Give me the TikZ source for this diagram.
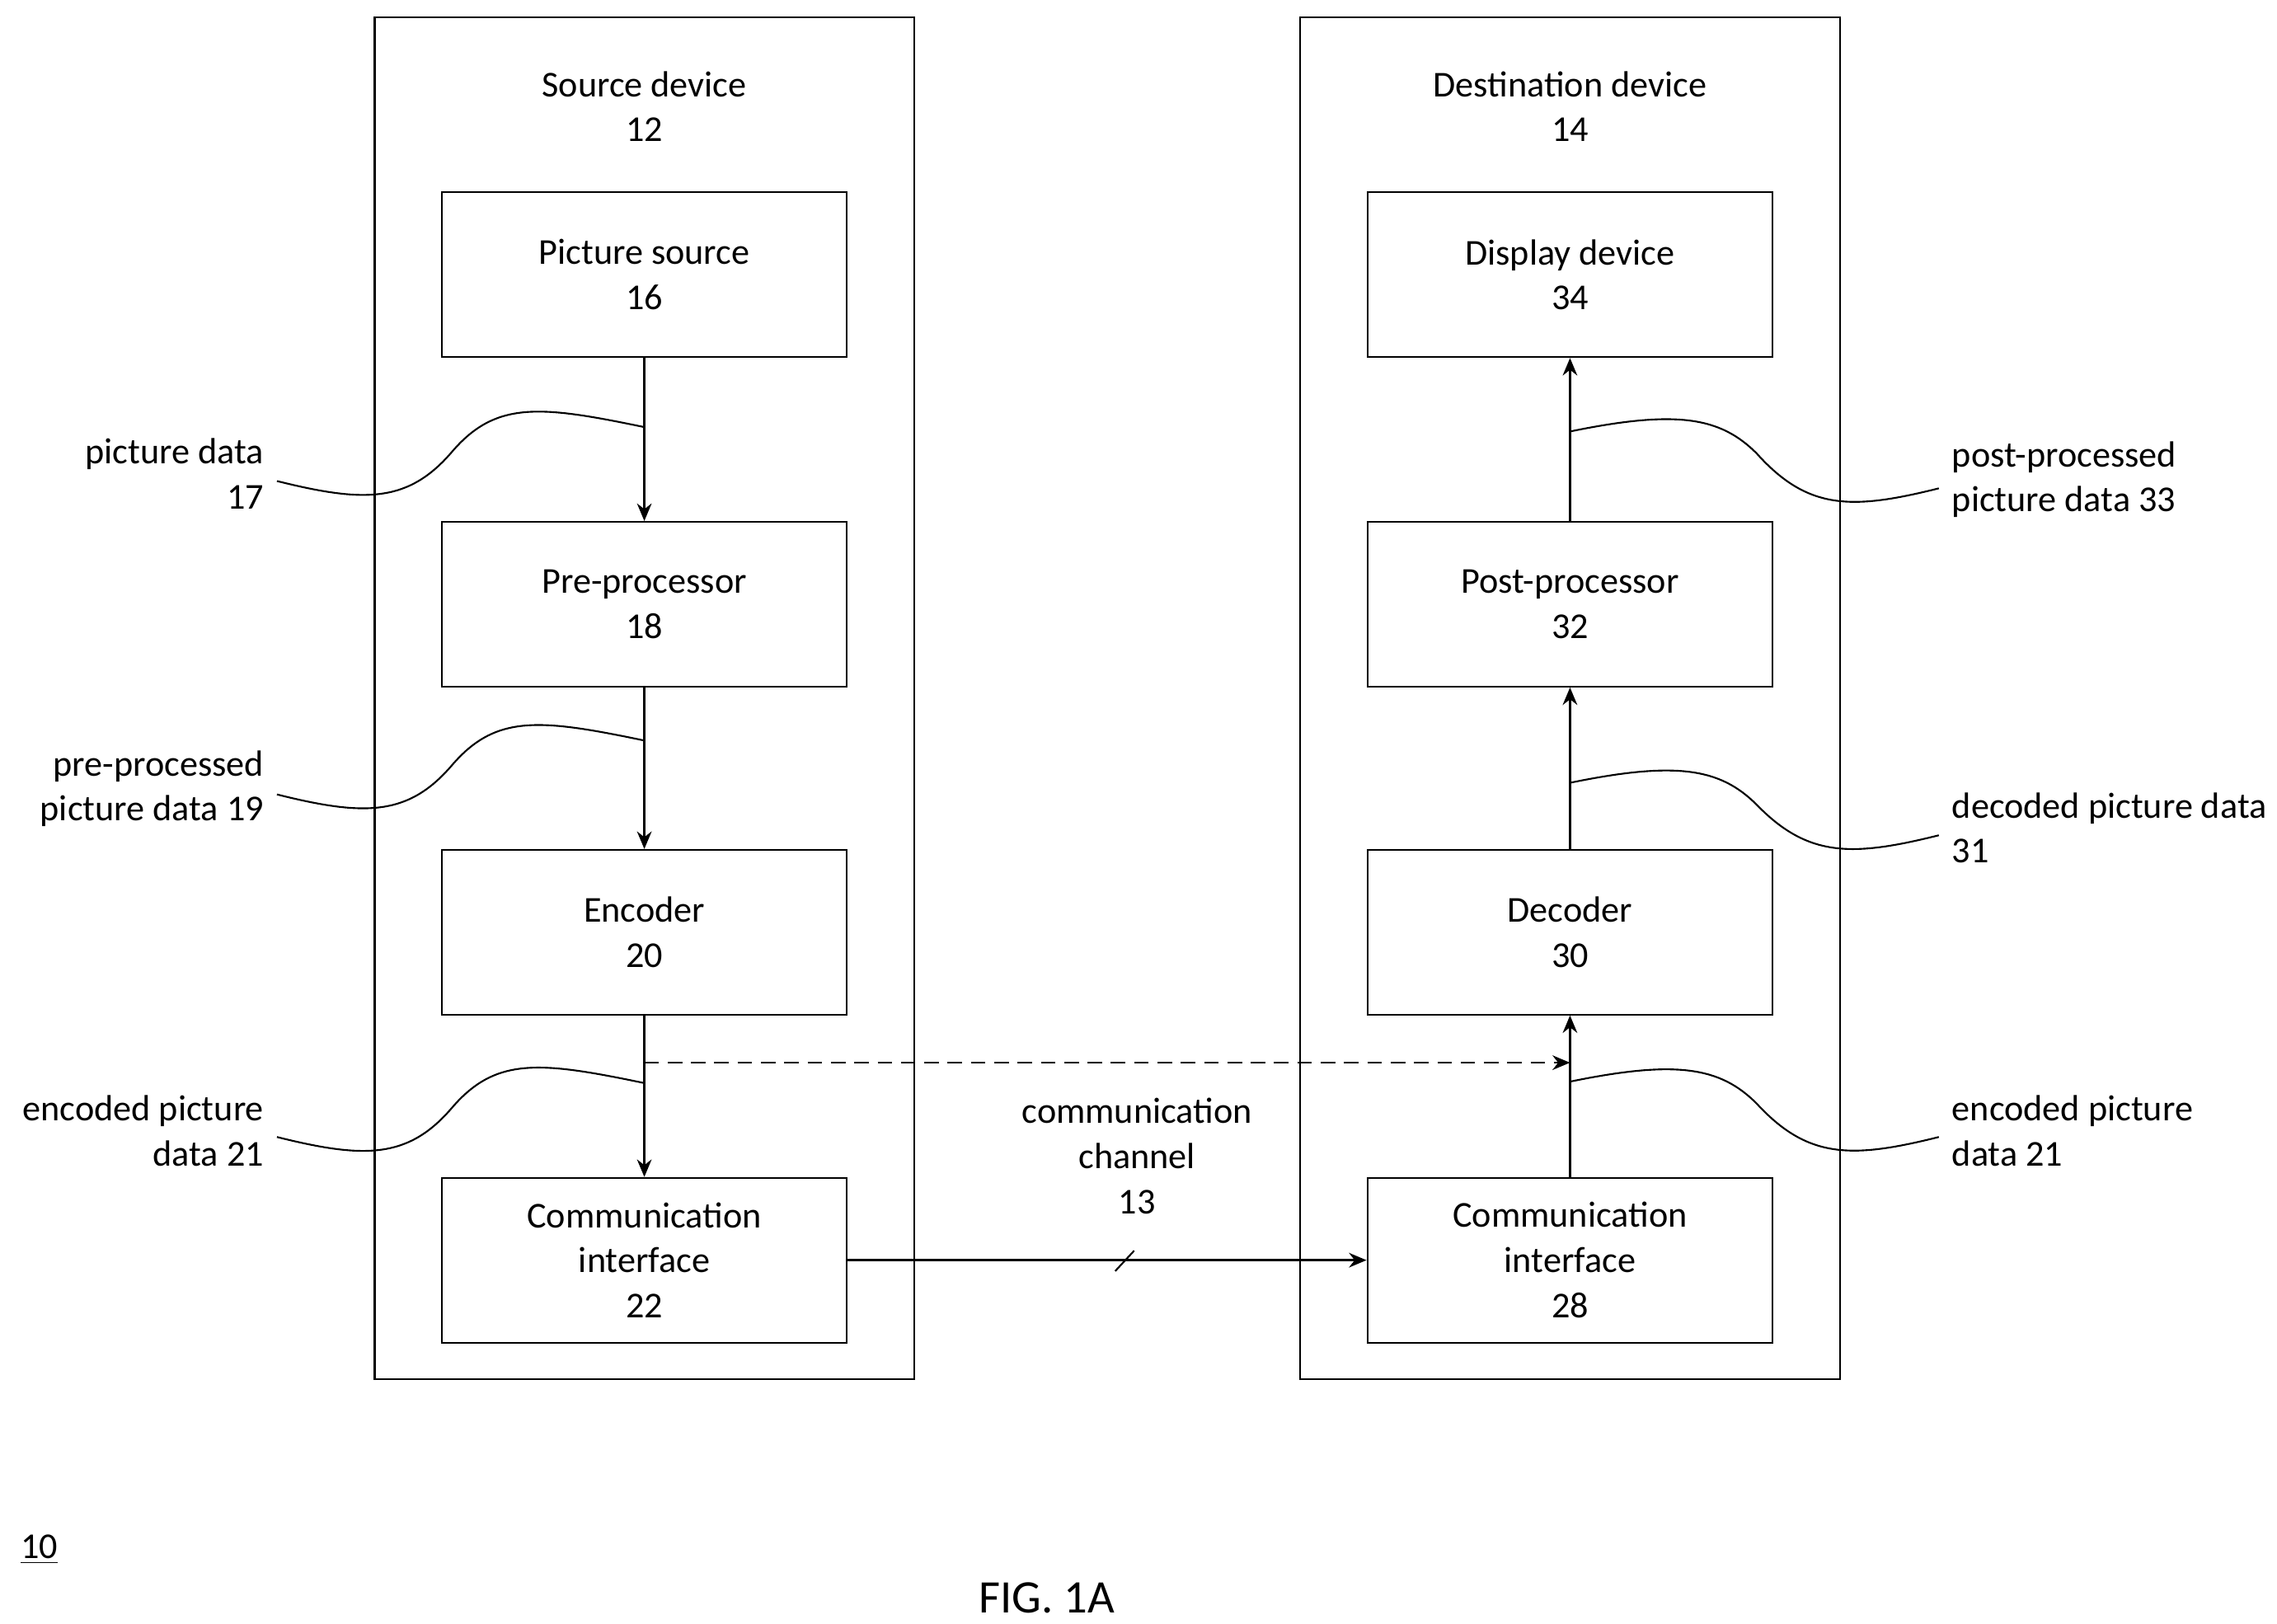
\documentclass[tikz,border=0pt]{standalone}
\usepackage{fontspec}
\setmainfont{Carlito}
\usetikzlibrary{arrows.meta}
\begin{document}
\begin{tikzpicture}[x=0.5pt,y=-0.5pt,
 every node/.style={font=\fontsize{12.5}{15.5}\selectfont},
 box/.style={draw,line width=0.6pt,minimum width=139pt,minimum height=56.5pt,align=center,inner sep=0pt},
 dev/.style={draw,line width=0.6pt,minimum width=185pt,minimum height=467pt,inner sep=0pt},
 arr/.style={line width=0.8pt,-{Stealth[length=6pt,width=5pt]}},
 lead/.style={line width=0.6pt}]
\useasboundingbox (0,0) rectangle (1562,1114);
\node[dev] (src) at (442,479) {};
\node[dev] (dst) at (1077,479) {};
\node[align=center] (srct) at (442,73) {Source device\\12};
\node[align=center] (dstt) at (1077,73) {Destination device\\14};
\node[box] (ps) at (442,188.5) {Picture source\\16};
\node[box] (pp) at (442,414.5) {Pre-processor\\18};
\node[box] (enc) at (442,639.5) {Encoder\\20};
\node[box] (ci) at (442,864.5) {Communication\\interface\\22};
\node[box] (dd) at (1077,188.5) {Display device\\34};
\node[box] (po) at (1077,414.5) {Post-processor\\32};
\node[box] (dec) at (1077,639.5) {Decoder\\30};
\node[box] (ci2) at (1077,864.5) {Communication\\interface\\28};
\draw[arr] (ps) -- (pp);
\draw[arr] (pp) -- (enc);
\draw[arr] (enc) -- (ci);
\draw[arr] (ci2) -- (dec);
\draw[arr] (dec) -- (po);
\draw[arr] (po) -- (dd);
\draw[arr] (ci) -- (ci2);
\coordinate (ds) at (442,729);
\coordinate (de) at (1077,729);
\draw[arr,dashed,dash pattern=on 5pt off 3pt] (ds) -- (de);
\draw[lead] (765,872) -- (778,858);
\node[align=center] (cc) at (780,793) {communication\\channel\\13};
% leader curves left
\foreach \y in {0,215,450}{
 \draw[lead] (190,330+\y) .. controls (250,345+\y) and (280,345+\y) .. (310,310+\y)
   .. controls (340,275+\y) and (370,278+\y) .. (442,293+\y);
}
% leader curves right
\foreach \y/\yy in {296/345,537/583,742/790}{
 \draw[lead] (1077,\y) .. controls (1150,\y-15) and (1180,\y-10) .. (1205,\y+15)
   .. controls (1240,\yy+5) and (1270,\yy+5) .. (1330,\yy-10);
}
\node[align=right,anchor=east] (l1) at (188,325) {picture data\\17};
\node[align=right,anchor=east] (l2) at (188,541) {pre-processed\\picture data 19};
\node[align=right,anchor=east] (l3) at (188,776) {encoded picture\\data 21};
\node[align=left,anchor=west] (r1) at (1332,329) {post-processed\\picture data 33};
\node[align=left,anchor=west] (r2) at (1332,568) {decoded picture data\\31};
\node[align=left,anchor=west] (r3) at (1332,776) {encoded picture\\data 21};
\node (ten) at (27,1063) {\underline{10}};
\node[font=\fontsize{16}{19}\selectfont] (fig) at (718,1096) {FIG. 1A};
\end{tikzpicture}
\end{document}
